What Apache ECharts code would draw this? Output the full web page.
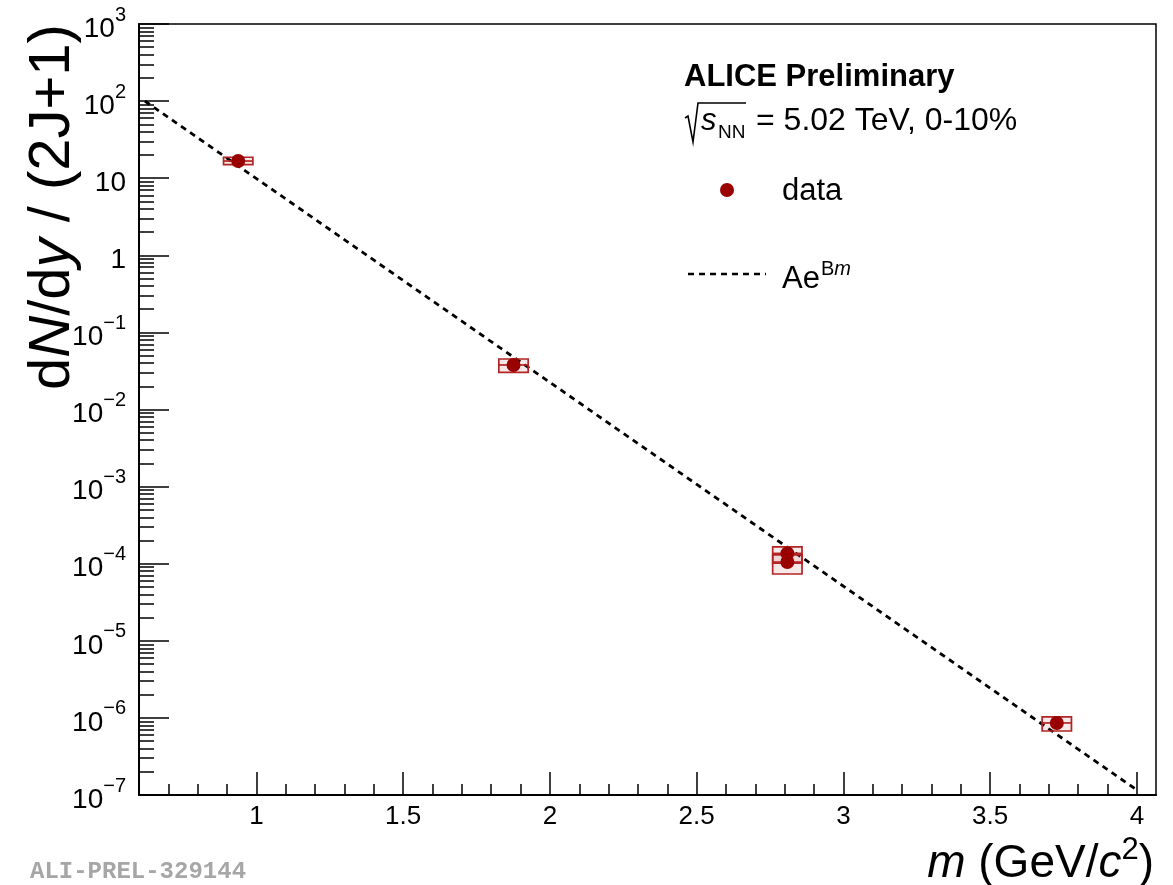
<!DOCTYPE html>
<html><head><meta charset="utf-8">
<script src="https://cdn.jsdelivr.net/npm/echarts@6/dist/echarts.min.js"></script>
<style>html,body{margin:0;padding:0;background:#fff}#c{width:1173px;height:885px}</style>
</head><body><div id="c"></div>
<script>
// ---- data ----
const particles = ['p', 'd', '3He', '3H', '4He'];
const mass      = [0.938, 1.876, 2.809, 2.809, 3.727];
const yieldVal  = [16.7, 0.0378, 1.36e-4, 1.05e-4, 8.6e-7];
const sysLow    = [15.0, 0.0303, 1.02e-4, 7.35e-5, 6.76e-7];
const sysHigh   = [18.7, 0.0452, 1.65e-4, 1.30e-4, 1.03e-6];
const fitX = [0.62, 4.0];
const fitY = [100, 1.16e-7];
const xMajorTicks = [1, 1.5, 2, 2.5, 3, 3.5, 4];
const xMinorTicks = [0.7, 0.8, 0.9, 1.1, 1.2, 1.3, 1.4, 1.6, 1.7, 1.8, 1.9, 2.1, 2.2, 2.3, 2.4,
                     2.6, 2.7, 2.8, 2.9, 3.1, 3.2, 3.3, 3.4, 3.6, 3.7, 3.8, 3.9];
const yDecades = [-7, -6, -5, -4, -3, -2, -1, 0, 1, 2, 3];
const yMinorMantissa = [2, 3, 4, 5, 6, 7, 8, 9];

// ---- build ----
const BOX_HALF = 0.05;
const RED = '#990000', BOXRED = '#b32424';
const FONT = "'Liberation Sans', Arial, Helvetica, sans-serif";
const lg = Math.log10;

const yMinorTicks = [];
yDecades.slice(0, -1).forEach(k => yMinorMantissa.forEach(m => yMinorTicks.push(lg(m) + k)));

const scatterData = mass.map((m, i) => [m, lg(yieldVal[i])]);
const boxData = mass.map((m, i) => [m, lg(sysLow[i]), lg(sysHigh[i]), lg(yieldVal[i])]);
const fitData = fitX.map((x, i) => [x, lg(fitY[i])]);

function yLabel(v) {
  const k = Math.round(v);
  if (k === 0) return '{b|1}';
  if (k === 1) return '{b|10}';
  return '{b|10}{s|' + (k < 0 ? '\u2212' + (-k) : k) + '}';
}

const chart = echarts.init(document.getElementById('c'), null, {renderer: 'canvas'});
const X0 = 0.6, X1 = 4.065;

chart.setOption({
  animation: false,
  backgroundColor: '#fff',
  grid: {left: 139, top: 24, width: 1017, height: 771, show: true, borderColor: '#000', borderWidth: 1.5, backgroundColor: 'transparent'},
  xAxis: [
    {type: 'value', min: X0, max: X1, gridIndex: 0, position: 'bottom',
     axisLine: {show: true, onZero: false, lineStyle: {color: '#000', width: 2}},
     axisTick: {show: true, inside: true, length: 23, customValues: xMajorTicks, lineStyle: {color: '#000', width: 1.5}},
     axisLabel: {show: true, customValues: xMajorTicks, margin: 9, color: '#000', fontSize: 26, fontFamily: FONT,
                 formatter: v => String(v)},
     splitLine: {show: false}},
    {type: 'value', min: X0, max: X1, gridIndex: 0, position: 'bottom', offset: 0,
     axisLine: {show: false, onZero: false},
     axisTick: {show: true, inside: true, length: 11, customValues: xMinorTicks, lineStyle: {color: '#000', width: 1.5}},
     axisLabel: {show: false}, splitLine: {show: false}}
  ],
  yAxis: [
    {type: 'value', min: -7, max: 3, interval: 1, gridIndex: 0, position: 'left',
     axisLine: {show: true, onZero: false, lineStyle: {color: '#000', width: 2}},
     axisTick: {show: true, inside: true, length: 30, lineStyle: {color: '#000', width: 1.5}},
     axisLabel: {show: true, margin: 13, color: '#000', fontFamily: FONT, formatter: yLabel,
       rich: {
         b: {fontSize: 28, fontFamily: FONT, color: '#000', lineHeight: 38, verticalAlign: 'bottom'},
         s: {fontSize: 20, fontFamily: FONT, color: '#000', lineHeight: 20, verticalAlign: 'top'}
       }},
     splitLine: {show: false}},
    {type: 'value', min: -7, max: 3, gridIndex: 0, position: 'left', offset: 0,
     axisLine: {show: false, onZero: false},
     axisTick: {show: true, inside: true, length: 15, customValues: yMinorTicks, lineStyle: {color: '#000', width: 1.5}},
     axisLabel: {show: false}, splitLine: {show: false}}
  ],
  series: [
    {type: 'line', name: 'fit', data: fitData, xAxisIndex: 0, yAxisIndex: 0, showSymbol: false, symbol: 'none',
     lineStyle: {color: '#000', width: 2.8, type: [6, 5]}, z: 2, silent: true},
    {type: 'custom', name: 'sys', data: boxData, xAxisIndex: 0, yAxisIndex: 0, z: 3, clip: true,
     renderItem: function (params, api) {
       const x = api.value(0), lo = api.value(1), hi = api.value(2), c = api.value(3);
       const p1 = api.coord([x - BOX_HALF, hi]);
       const p2 = api.coord([x + BOX_HALF, lo]);
       const pc = api.coord([x, c]);
       return {type: 'group', children: [
         {type: 'rect', shape: {x: p1[0], y: p1[1], width: p2[0] - p1[0], height: p2[1] - p1[1]},
          style: {fill: 'rgba(179,36,36,0.10)', stroke: BOXRED, lineWidth: 1.7}},
         {type: 'line', shape: {x1: p1[0], y1: pc[1], x2: p2[0], y2: pc[1]},
          style: {stroke: BOXRED, lineWidth: 1.7}}
       ]};
     }},
    {type: 'scatter', name: 'data', data: scatterData, xAxisIndex: 0, yAxisIndex: 0, symbol: 'circle', symbolSize: 14,
     itemStyle: {color: RED, opacity: 1}, z: 4}
  ],
  graphic: [
    // y-axis title
    {type: 'text', x: 53, y: 207, rotation: Math.PI / 2,
     style: {text: '{n|d}{i|N}{n|/d}{i|y}{n| / (2J+1)}', align: 'center', verticalAlign: 'middle',
       rich: {n: {fontSize: 58, fontFamily: FONT, fill: '#000'}, i: {fontSize: 58, fontFamily: FONT, fontStyle: 'italic', fill: '#000'}}}},
    // x-axis title
    {type: 'text', x: 1154, y: 861,
     style: {text: '{i|m}{n| (GeV/}{i|c}{s|2}{n|)}', align: 'right', verticalAlign: 'middle',
       rich: {n: {fontSize: 46, fontFamily: FONT, fill: '#000', lineHeight: 52, verticalAlign: 'bottom'},
              i: {fontSize: 46, fontFamily: FONT, fontStyle: 'italic', fill: '#000', lineHeight: 52, verticalAlign: 'bottom'},
              s: {fontSize: 31, fontFamily: FONT, fill: '#000', lineHeight: 31, verticalAlign: 'top'}}}},
    // watermark
    {type: 'text', x: 30, y: 872,
     style: {text: 'ALI-PREL-329144', fontSize: 24, fontWeight: 'bold', fontFamily: "'Liberation Mono', 'DejaVu Sans Mono', monospace",
       fill: '#a6a6a6', align: 'left', verticalAlign: 'middle'}},
    // legend block
    {type: 'text', x: 684, y: 77,
     style: {text: 'ALICE Preliminary', fontSize: 31, fontWeight: 'bold', fontFamily: FONT, fill: '#000', align: 'left', verticalAlign: 'middle'}},
    {type: 'polyline', shape: {points: [[685, 118], [688, 116], [693, 142], [698, 103], [746, 103]]},
     style: {stroke: '#000', lineWidth: 1.6, fill: null}},
    {type: 'text', x: 701, y: 121,
     style: {text: 's', fontSize: 31, fontStyle: 'italic', fontFamily: FONT, fill: '#000', align: 'left', verticalAlign: 'middle'}},
    {type: 'text', x: 718, y: 133,
     style: {text: 'NN', fontSize: 19, fontFamily: FONT, fill: '#000', align: 'left', verticalAlign: 'middle'}},
    {type: 'text', x: 756, y: 121,
     style: {text: '= 5.02 TeV, 0-10%', fontSize: 32, fontFamily: FONT, fill: '#000', align: 'left', verticalAlign: 'middle'}},
    {type: 'circle', shape: {cx: 727, cy: 190, r: 7}, style: {fill: RED}},
    {type: 'text', x: 782, y: 191,
     style: {text: 'data', fontSize: 31, fontFamily: FONT, fill: '#000', align: 'left', verticalAlign: 'middle'}},
    {type: 'line', shape: {x1: 688, y1: 274, x2: 766, y2: 274}, style: {stroke: '#000', lineWidth: 2.6, lineDash: [6, 5]}},
    {type: 'text', x: 782, y: 279,
     style: {text: 'Ae', fontSize: 31, fontFamily: FONT, fill: '#000', align: 'left', verticalAlign: 'middle'}},
    {type: 'text', x: 821, y: 269,
     style: {text: '{n|B}{i|m}', align: 'left', verticalAlign: 'middle',
       rich: {n: {fontSize: 20, fontFamily: FONT, fill: '#000'}, i: {fontSize: 20, fontFamily: FONT, fontStyle: 'italic', fill: '#000'}}}}
  ]
});
</script>
</body></html>
